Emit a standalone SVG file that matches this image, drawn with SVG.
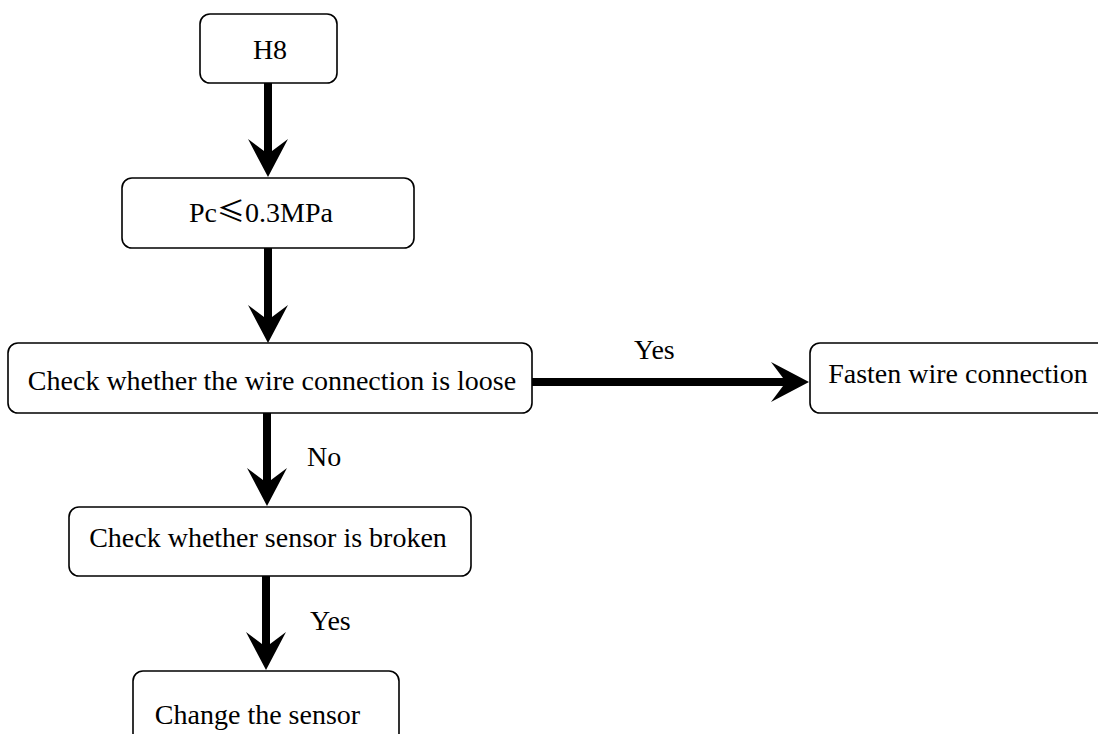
<svg xmlns="http://www.w3.org/2000/svg" width="1098" height="734" viewBox="0 0 1098 734">
<style>
.box{fill:#fff;stroke:#000;stroke-width:1.6}
.t{font-family:"Liberation Serif","Times New Roman",serif;font-size:28px;fill:#000}
.c{text-anchor:middle}
.e{stroke:#000;stroke-width:8;fill:none}
</style>
<defs>
<marker id="ah" markerUnits="userSpaceOnUse" markerWidth="44" markerHeight="44" viewBox="-40 -22 44 44" refX="-20" refY="0" orient="auto">
<path d="M0,0 L-38,-20 L-23,0 L-38,20 Z" fill="#000"/>
</marker>
</defs>
<rect width="1098" height="734" fill="#fff"/>
<g id="connectors">
<line class="e" x1="268" y1="83" x2="268" y2="157" marker-end="url(#ah)"/>
<line class="e" x1="268" y1="248" x2="268" y2="323" marker-end="url(#ah)"/>
<line class="e" x1="267" y1="413" x2="267" y2="486" marker-end="url(#ah)"/>
<line class="e" x1="266" y1="576" x2="266" y2="650" marker-end="url(#ah)"/>
<line class="e" x1="532" y1="382" x2="789" y2="382" marker-end="url(#ah)"/>
<text class="t" x="634" y="359">Yes</text>
<text class="t" x="307" y="466">No</text>
<text class="t" x="310" y="630">Yes</text>
</g>
<g id="n1">
<rect class="box" x="200" y="14" width="137" height="69" rx="10"/>
<text class="t c" x="270" y="59">H8</text>
</g>
<g id="n2">
<rect class="box" x="122" y="178" width="292" height="70" rx="10"/>
<text class="t" x="189" y="222">Pc<tspan font-family="'Noto Sans CJK SC',sans-serif">≤</tspan>0.3MPa</text>
</g>
<g id="n3">
<rect class="box" x="8" y="343" width="524" height="70" rx="10"/>
<text class="t c" x="272" y="390">Check whether the wire connection is loose</text>
</g>
<g id="n4">
<rect class="box" x="810" y="343" width="300" height="70" rx="10"/>
<text class="t c" x="958" y="383">Fasten wire connection</text>
</g>
<g id="n5">
<rect class="box" x="69" y="507" width="402" height="69" rx="10"/>
<text class="t c" x="268" y="547">Check whether sensor is broken</text>
</g>
<g id="n6">
<rect class="box" x="133" y="671" width="266" height="72" rx="10"/>
<text class="t c" x="257.5" y="724">Change the sensor</text>
</g>
</svg>
